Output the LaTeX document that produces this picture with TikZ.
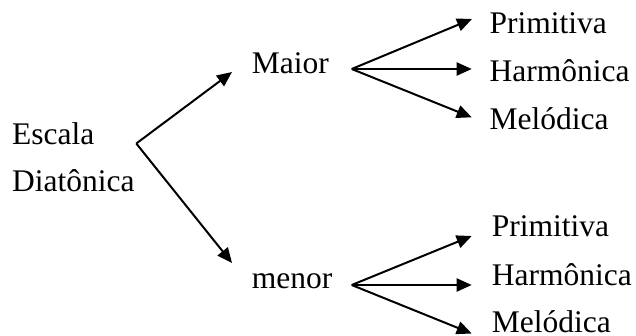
\documentclass[tikz,border=0pt]{standalone}
\usepackage{fontspec}
\setmainfont{Liberation Serif}
\usetikzlibrary{arrows.meta}
\begin{document}
\begin{tikzpicture}[x=1pt,y=-1pt,
  lbl/.style={anchor=base west,inner sep=0pt,font=\fontsize{31.5}{37}\selectfont},
  arr/.style={line width=2pt,-{Triangle[length=15pt,width=13pt]}}]
\useasboundingbox (0,0) rectangle (636,335);
% texts
\node[lbl] (escala) at (12,144) {Escala};
\node[lbl] (diat) at (12,191.7) {Diatônica};
\node[lbl] (maior) at (251.7,73.3) {Maior};
\node[lbl] (menor) at (251.7,288.3) {menor};
\node[lbl] (p1) at (489.5,33.3) {Primitiva};
\node[lbl] (h1) at (489.5,81.5) {Harmônica};
\node[lbl] (m1) at (489.5,129.5) {Melódica};
\node[lbl] (p2) at (491.7,236.7) {Primitiva};
\node[lbl] (h2) at (491.7,285) {Harmônica};
\node[lbl,text depth=0pt] (m2) at (491.7,332) {Melódica};
% branch points and arrow tips
\coordinate (v0) at (136.3,143.5);
\coordinate (v1) at (351.7,69);
\coordinate (v2) at (351.7,285);
\coordinate (tMaior) at (232,72);
\coordinate (tmenor) at (232,263);
\coordinate (tp1) at (472,19);
\coordinate (th1) at (471.7,69);
\coordinate (tm1) at (471.7,117.3);
\coordinate (tp2) at (471.7,236);
\coordinate (th2) at (471.7,285);
\coordinate (tm2) at (471.7,333.5);
% connectors
\draw[arr] (v0) -- (tMaior);
\draw[arr] (v0) -- (tmenor);
\draw[arr] (v1) -- (tp1);
\draw[arr] (v1) -- (th1);
\draw[arr] (v1) -- (tm1);
\draw[arr] (v2) -- (tp2);
\draw[arr] (v2) -- (th2);
\draw[arr] (v2) -- (tm2);
\end{tikzpicture}
\end{document}
